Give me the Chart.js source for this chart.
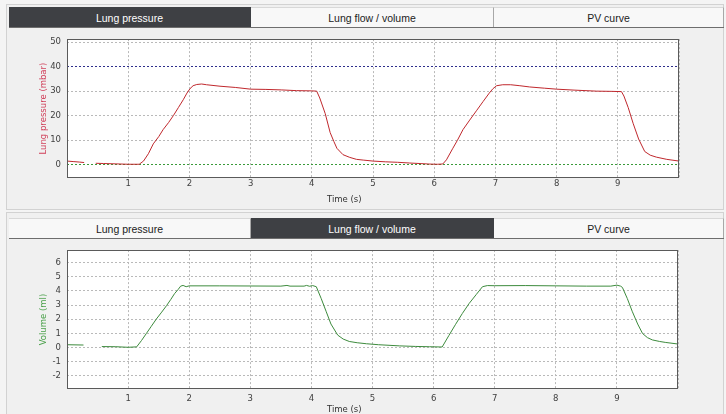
<!DOCTYPE html>
<html><head><meta charset="utf-8">
<script src="https://cdn.jsdelivr.net/npm/chart.js@4.4.1/dist/chart.umd.min.js"></script>
<style>
html,body{margin:0;padding:0;width:726px;height:414px;overflow:hidden;background:#f4f4f4;font-family:"Liberation Sans",Arial,sans-serif;}
.panel{position:absolute;left:6px;width:718px;background:#f0f0f0;border:1px solid #d2d2d2;box-sizing:border-box;}
.tabbar{position:absolute;left:9px;width:715px;height:21px;border-bottom:1px solid #6e6e6e;box-sizing:border-box;}
.tab{position:absolute;top:0;height:20px;line-height:20px;text-align:center;font-size:10.5px;color:#222;background:#f8f8f8;border-right:1px solid #a8a8a8;border-top:1px solid #d8d8d8;box-sizing:border-box;}
.tab.active{background:#3e4044;color:#fff;border-color:#3e4044;}
canvas{position:absolute;}
.xt{position:absolute;font-family:"DejaVu Sans";font-size:8.5px;color:#333;line-height:10px;white-space:nowrap;}
</style>
</head><body>
<div class="panel" style="top:4px;height:206px;"></div>
<div class="panel" style="top:212px;height:204px;"></div>

<div class="tabbar" style="top:7px;">
  <div class="tab active" style="left:0;width:242px;">Lung pressure</div>
  <div class="tab" style="left:242px;width:243px;">Lung flow / volume</div>
  <div class="tab" style="left:485px;width:230px;">PV curve</div>
</div>
<div class="tabbar" style="top:218px;">
  <div class="tab" style="left:0;width:242px;">Lung pressure</div>
  <div class="tab active" style="left:242px;width:243px;">Lung flow / volume</div>
  <div class="tab" style="left:485px;width:230px;">PV curve</div>
</div>

<canvas id="c1" width="660" height="180" style="left:34px;top:28px;"></canvas>
<canvas id="c2" width="660" height="175" style="left:34px;top:239px;"></canvas>
<div class="xt" style="left:327px;top:194px;">Time (s)</div>
<div class="xt" style="left:327px;top:404px;">Time (s)</div>

<script>
// ---- data ----
const xTickLabels = ['1','2','3','4','5','6','7','8','9'];
const pressureTicks = [0,10,20,30,40,50];
const volumeTicks = [-2,-1,0,1,2,3,4,5,6];
const pressureUpperLimit = 40;
const pressureLowerLimit = 0;

const pressureTime = [0,0.1,0.2,0.28,0.38,0.47,0.6,0.8,1.0,1.18,1.25,1.33,1.41,1.5,1.57,1.66,1.74,1.82,1.9,1.96,2.01,2.06,2.12,2.2,2.28,2.5,2.75,3.0,3.25,3.5,3.75,4.0,4.08,4.13,4.22,4.3,4.36,4.41,4.51,4.62,4.73,4.84,5.0,5.2,5.4,5.6,5.8,5.93,6.05,6.14,6.2,6.3,6.38,6.47,6.58,6.69,6.8,6.9,6.96,7.02,7.12,7.25,7.4,7.56,7.8,8.0,8.3,8.65,8.9,9.06,9.1,9.17,9.25,9.34,9.44,9.53,9.63,9.8,10.0];
const pressureValues = [1.5,1.3,1.1,0.9,null,0.6,0.5,0.35,0.2,0.2,1.5,4.5,8.5,11.5,14.3,17.2,20.1,23.3,26.5,29.2,31.0,32.2,32.7,32.9,32.6,32.0,31.5,30.8,30.7,30.5,30.2,30.1,30.0,27.2,20.8,13.1,9.5,6.7,4.1,3.0,2.2,1.9,1.5,1.2,1.0,0.7,0.45,0.27,0.2,0.3,2.0,6.5,10.0,14.3,18.2,22.0,25.8,29.2,31.0,32.2,32.6,32.6,32.2,31.7,31.2,30.8,30.4,30.0,29.9,29.8,28.0,23.3,16.9,10.5,5.4,3.9,3.1,2.2,1.5];

const volumeTime = [0,0.27,0.4,0.57,0.8,1.0,1.14,1.22,1.3,1.38,1.46,1.55,1.63,1.7,1.76,1.82,1.86,1.9,1.95,2.0,2.5,3.0,3.5,3.6,3.65,3.88,3.92,3.97,4.02,4.08,4.16,4.24,4.32,4.43,4.52,4.62,4.75,4.9,5.1,5.44,5.7,5.93,6.14,6.25,6.36,6.47,6.58,6.7,6.8,6.88,7.0,7.5,8.0,8.5,8.9,9.0,9.06,9.09,9.17,9.25,9.34,9.42,9.5,9.58,9.7,9.8,10.0];
const volumeValues = [0.2,0.18,null,0.07,0.06,0.02,0.05,0.5,1.0,1.5,2.0,2.5,2.96,3.4,3.8,4.1,4.33,4.38,4.29,4.35,4.35,4.34,4.33,4.38,4.33,4.33,4.38,4.32,4.37,4.29,3.46,2.56,1.66,0.88,0.6,0.43,0.34,0.27,0.2,0.12,0.08,0.06,0.04,0.85,1.64,2.4,3.1,3.75,4.29,4.37,4.36,4.37,4.35,4.33,4.33,4.4,4.33,4.24,3.46,2.56,1.66,0.99,0.7,0.54,0.43,0.36,0.25];

// ---- helpers ----
Chart.defaults.font.family = 'DejaVu Sans';
Chart.defaults.font.size = 8.5;
Chart.defaults.color = '#404040';

const plotFrame = {
  id: 'plotFrame',
  beforeDraw(chart) {
    const {ctx, chartArea: a} = chart;
    ctx.save();
    ctx.fillStyle = '#ffffff';
    ctx.fillRect(a.left, a.top, a.right - a.left, a.bottom - a.top);
    ctx.restore();
  },
  afterDraw(chart) {
    const {ctx, chartArea: a} = chart;
    ctx.save();
    ctx.setLineDash([]);
    ctx.strokeStyle = '#5a5a5a';
    ctx.lineWidth = 1;
    ctx.strokeRect(Math.round(a.left) + 0.5, Math.round(a.top) + 0.5, Math.round(a.right - a.left) - 1, Math.round(a.bottom - a.top) - 1);
    ctx.restore();
  }
};

function pts(xs, ys) { return xs.map((x, i) => ({x: x, y: ys[i]})); }

function makeChart(id, cfg) {
  return new Chart(document.getElementById(id), {
    type: 'line',
    data: { datasets: [{
      data: pts(cfg.time, cfg.values),
      borderColor: cfg.lineColor,
      borderWidth: 1,
      pointRadius: 0,
      tension: 0,
      spanGaps: false
    }]},
    options: {
      responsive: false,
      animation: false,
      events: [],
      layout: { padding: { top: 4, right: cfg.padRight, left: 0, bottom: 0 } },
      plugins: { legend: { display: false }, tooltip: { enabled: false } },
      scales: {
        x: {
          type: 'linear', min: 0, max: 10,
          afterFit(s) { s.height = cfg.xHeight; },
          afterBuildTicks(s) { s.ticks = [0,1,2,3,4,5,6,7,8,9,10].map(v => ({value: v})); },
          ticks: {
            padding: cfg.xPad, maxRotation: 0, autoSkip: false, color: '#404040',
            callback: (v) => (v >= 1 && v <= 9) ? xTickLabels[v - 1] : ''
          },
          grid: { color: '#b9b9b9', drawTicks: false, lineWidth: 1 },
          border: { display: false, dash: [2, 2] }
        },
        y: {
          type: 'linear', min: cfg.yMin, max: cfg.yMax,
          afterFit(s) { s.width = 33; },
          afterBuildTicks(s) { s.ticks = cfg.yTicks.map(v => ({value: v})); },
          ticks: { padding: 6, color: '#404040', callback: (v) => String(v) },
          grid: {
            drawTicks: false, lineWidth: 1,
            color: (c) => (c.tick && cfg.gridColors && cfg.gridColors[c.tick.value]) || '#b9b9b9'
          },
          border: { display: false, dash: [2, 2] },
          title: { display: true, text: cfg.yTitle, color: cfg.titleColor, padding: { top: 5, bottom: 4 }, font: { size: 8.5 } }
        }
      }
    },
    plugins: [plotFrame]
  });
}

const limitColors = {};
limitColors[pressureUpperLimit] = '#2e2e8c';
limitColors[pressureLowerLimit] = '#3a9a3a';

makeChart('c1', {
  time: pressureTime, values: pressureValues, lineColor: '#c0282d',
  yMin: -5.4, yMax: 51.2, yTicks: pressureTicks, yTitle: 'Lung pressure (mbar)',
  titleColor: '#d0405a', gridColors: limitColors, xHeight: 30, xPad: 1, padRight: 15
});
makeChart('c2', {
  time: volumeTime, values: volumeValues, lineColor: '#3d8b3d',
  yMin: -2.92, yMax: 6.87, yTicks: volumeTicks, yTitle: 'Volume (ml)',
  titleColor: '#4aa04a', gridColors: null, xHeight: 25, xPad: 5, padRight: 16
});
</script>
</body></html>
